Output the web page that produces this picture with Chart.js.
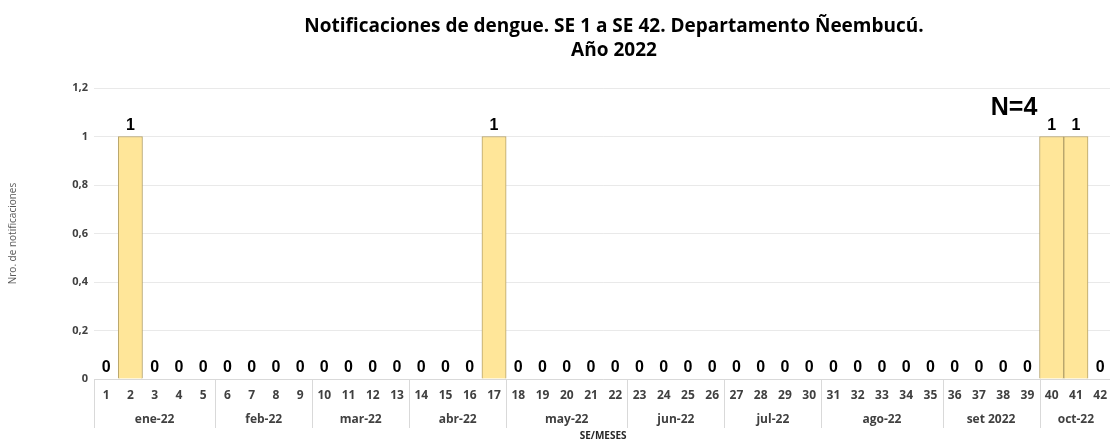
<!DOCTYPE html>
<html>
<head>
<meta charset="utf-8">
<title>Notificaciones de dengue - Ñeembucú 2022</title>
<script src="https://cdn.jsdelivr.net/npm/chart.js@4.4.0/dist/chart.umd.min.js"></script>
<style>
    html, body { margin: 0; padding: 0; background: #fff; overflow: hidden; }
</style>
</head>
<body>
<!-- el gráfico original queda cortado en el borde derecho -->
<canvas id="dengueChart" width="1116" height="441"></canvas>
<script>
// Datos
const semanas = ['1', '2', '3', '4', '5', '6', '7', '8', '9', '10', '11', '12', '13', '14',
    '15', '16', '17', '18', '19', '20', '21', '22', '23', '24', '25', '26', '27', '28',
    '29', '30', '31', '32', '33', '34', '35', '36', '37', '38', '39', '40', '41', '42'];
const notificaciones = [0, 1, 0, 0, 0, 0, 0, 0, 0, 0, 0, 0, 0, 0,
    0, 0, 1, 0, 0, 0, 0, 0, 0, 0, 0, 0, 0, 0,
    0, 0, 0, 0, 0, 0, 0, 0, 0, 0, 0, 1, 1, 0];
const meses = ['ene-22', 'feb-22', 'mar-22', 'abr-22', 'may-22', 'jun-22', 'jul-22', 'ago-22', 'set 2022', 'oct-22'];
const semanasPorMes = [5, 4, 4, 4, 5, 4, 4, 5, 4, 3];
const titulo = ['Notificaciones de dengue. SE 1 a SE 42. Departamento Ñeembucú.', 'Año 2022'];
const totalTexto = 'N=4';

const fuente = '"Open Sans", "Noto Sans", sans-serif';
const fuenteArial = '"Liberation Sans", Arial, sans-serif';

// Rótulos de valor sobre cada barra
const rotulosPlugin = {
    id: 'rotulos',
    afterDatasetsDraw(chart) {
        const ctx = chart.ctx;
        const meta = chart.getDatasetMeta(0);
        ctx.save();
        ctx.font = 'bold 16px ' + fuenteArial;
        ctx.fillStyle = '#000';
        ctx.textAlign = 'center';
        ctx.textBaseline = 'alphabetic';
        meta.data.forEach((barra, i) => {
            ctx.fillText(String(notificaciones[i]), barra.x, barra.y - 7);
        });
        ctx.restore();
    }
};

// Meses debajo de las semanas, con separadores
const mesesPlugin = {
    id: 'meses',
    afterDraw(chart) {
        const x = chart.scales.x;
        const ctx = chart.ctx;
        const paso = x.getPixelForValue(1) - x.getPixelForValue(0);
        const arriba = chart.chartArea.bottom + 1;
        let inicio = 0;
        ctx.save();
        ctx.strokeStyle = '#d9d9d9';
        ctx.lineWidth = 1;
        ctx.font = 'bold 12px ' + fuente;
        ctx.fillStyle = '#404040';
        ctx.textAlign = 'center';
        ctx.textBaseline = 'middle';
        semanasPorMes.forEach((n, m) => {
            const izq = x.getPixelForValue(inicio) - paso / 2;
            ctx.beginPath();
            ctx.moveTo(Math.round(izq) + 0.5, arriba);
            ctx.lineTo(Math.round(izq) + 0.5, 428);
            ctx.stroke();
            const centro = (x.getPixelForValue(inicio) + x.getPixelForValue(inicio + n - 1)) / 2;
            ctx.fillText(meses[m], centro, 420);
            inicio += n;
        });
        ctx.restore();
    }
};

// Título y total
const textosPlugin = {
    id: 'textos',
    afterDraw(chart) {
        const ctx = chart.ctx;
        ctx.save();
        ctx.fillStyle = '#000';
        ctx.textAlign = 'center';
        ctx.textBaseline = 'alphabetic';
        ctx.font = 'bold 19px ' + fuente;
        ctx.fillText(titulo[0], 614, 32);
        ctx.fillText(titulo[1], 614, 56);
        ctx.font = 'bold 25px ' + fuenteArial;
        ctx.fillText(totalTexto, 1014, 115);
        ctx.restore();
    }
};

function formatoEje(valor) {
    return valor.toFixed(1).replace(/\.0$/, '').replace('.', ',');
}

function inicializarGrafico() {
    const ctx = document.getElementById('dengueChart').getContext('2d');
    new Chart(ctx, {
        type: 'bar',
        data: {
            labels: semanas,
            datasets: [{
                label: 'Notificaciones',
                data: notificaciones,
                backgroundColor: '#FFE699',
                borderColor: '#B5A26A',
                borderWidth: 1,
                barPercentage: 1,
                categoryPercentage: 1
            }]
        },
        options: {
            responsive: false,
            animation: false,
            layout: { padding: { top: 88, right: 0, bottom: 0, left: 0 } },
            plugins: {
                legend: { display: false },
                title: { display: false },
                tooltip: { enabled: false }
            },
            scales: {
                x: {
                    grid: { display: false, drawTicks: false },
                    border: { display: true, color: '#d9d9d9', width: 1 },
                    ticks: {
                        color: '#404040',
                        font: { family: fuente, size: 12, weight: 'bold' },
                        padding: 9,
                        maxRotation: 0,
                        autoSkip: false
                    },
                    title: {
                        display: true,
                        text: 'SE/MESES',
                        color: '#262626',
                        font: { family: fuente, size: 10, weight: 'bold', lineHeight: 1 },
                        padding: { top: 0, bottom: 0 }
                    },
                    afterFit(escala) { escala.height = 62; }
                },
                y: {
                    min: 0,
                    max: 1.2,
                    grid: { color: '#e9e9e9', drawTicks: false },
                    border: { display: false },
                    ticks: {
                        stepSize: 0.2,
                        color: '#404040',
                        font: { family: fuente, size: 11, weight: 'bold' },
                        padding: 6,
                        callback: (v) => formatoEje(v)
                    },
                    title: {
                        display: true,
                        text: 'Nro. de notificaciones',
                        color: '#595959',
                        font: { family: fuente, size: 10 },
                        padding: { top: 7, bottom: 0 }
                    },
                    afterFit(escala) { escala.width = 94; }
                }
            }
        },
        plugins: [rotulosPlugin, mesesPlugin, textosPlugin]
    });
}

document.addEventListener('DOMContentLoaded', () => {
    inicializarGrafico();
});
</script>
</body>
</html>
